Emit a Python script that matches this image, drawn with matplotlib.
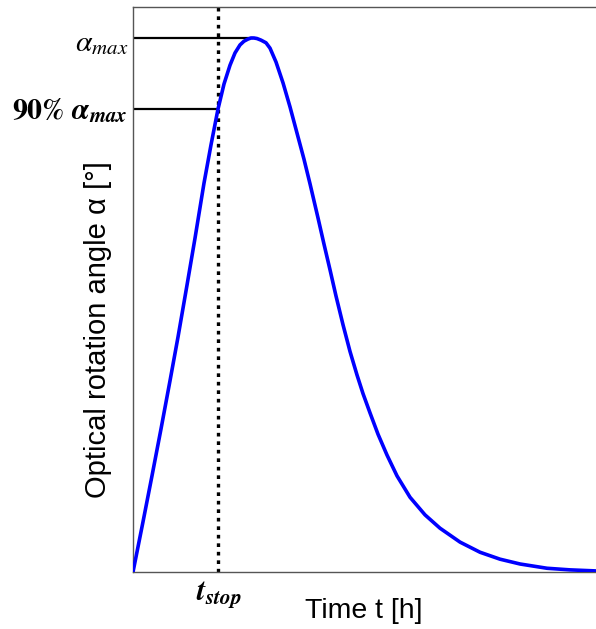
import matplotlib
matplotlib.use("Agg")
import matplotlib.pyplot as plt

# Schematic optical rotation curve (arbitrary units)
time_h = [0.000, 0.216, 0.410, 0.605, 0.799, 0.972, 1.166, 1.339, 1.533, 1.685, 1.836,
          1.966, 2.095, 2.203, 2.311, 2.397, 2.484, 2.549, 2.613, 2.678, 2.765, 2.873,
          2.959, 3.089, 3.240, 3.391, 3.542, 3.693, 3.823, 3.996, 4.125, 4.255, 4.384,
          4.536, 4.687, 4.838, 4.968, 5.119, 5.292, 5.486, 5.702, 5.983, 6.307, 6.631,
          7.063, 7.495, 7.927, 8.359, 8.942, 9.438, 10.000]
alpha = [0.000, 0.094, 0.180, 0.268, 0.358, 0.440, 0.537, 0.625, 0.728, 0.800, 0.867,
         0.914, 0.949, 0.972, 0.987, 0.994, 0.998, 1.000, 1.000, 0.999, 0.996, 0.991,
         0.981, 0.955, 0.916, 0.871, 0.822, 0.773, 0.727, 0.663, 0.614, 0.566, 0.517,
         0.463, 0.413, 0.369, 0.334, 0.298, 0.258, 0.219, 0.180, 0.140, 0.107, 0.082,
         0.056, 0.037, 0.024, 0.015, 0.007, 0.004, 0.002]
t_peak = 2.58
alpha_max = 1.0
t_stop = 1.836
alpha_90 = 0.867

plt.rcParams['mathtext.fontset'] = 'stix'

W, H = 596, 629
fig = plt.figure(figsize=(W / 100, H / 100), dpi=100)
ax = fig.add_axes([133 / W, 1 - 572 / H, 463 / W, 565 / H])

ax.plot(time_h, alpha, color='#0000ff', lw=2.6, solid_joinstyle='round',
        solid_capstyle='round', zorder=3)
ax.plot([0, t_peak], [alpha_max, alpha_max], color='black', lw=1.6, zorder=2)
ax.plot([0, t_stop], [alpha_90, alpha_90], color='black', lw=1.6, zorder=2)
ax.axvline(t_stop, color='black', lw=2.4, linestyle=(0, (1.1, 1.45)), zorder=2)

ax.set_xlim(0, 10)
ax.set_ylim(0, 565 / 534)
ax.set_xticks([])
ax.set_yticks([])
for side in ['left', 'bottom', 'top']:
    ax.spines[side].set_color('#555555')
    ax.spines[side].set_linewidth(1.0)
ax.spines['right'].set_visible(False)

fig.text(128 / W, 1 - 43 / H, r'$\alpha_{max}$', ha='right', va='center', fontsize=21.5)
fig.text(128 / W, 1 - 111 / H, r'$\mathbf{90\%}\ \boldsymbol{\alpha}_{\boldsymbol{max}}$',
         ha='right', va='center', fontsize=21.5)
fig.text(219 / W, 1 - 594 / H, r'$\boldsymbol{t}_{\boldsymbol{stop}}$', ha='center',
         va='center', fontsize=22)

fig.text(364 / W, 1 - 611 / H, 'Time t [h]', ha='center', va='center', fontsize=20.5,
         family='Liberation Sans')
fig.text(98 / W, 1 - 330 / H, 'Optical rotation angle α [°]', ha='center', va='center',
         rotation=90, fontsize=21, family='Liberation Sans')

fig.savefig('out.png', dpi=100)
